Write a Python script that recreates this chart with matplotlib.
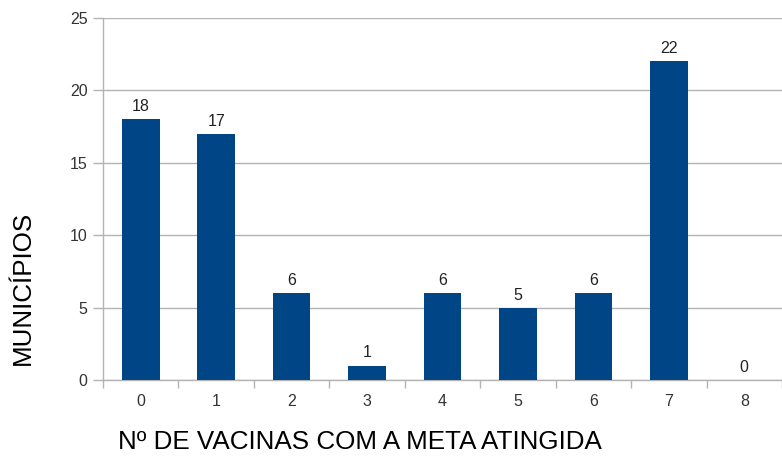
import numpy as np
import matplotlib.pyplot as plt

plt.rcParams['font.family'] = ['Liberation Sans', 'DejaVu Sans']

categories = ['0', '1', '2', '3', '4', '5', '6', '7', '8']
municipios = [18, 17, 6, 1, 6, 5, 6, 22, 0]

bar_colour = "#004586"
grid_colour = "#b3b3b3"

fig = plt.figure(figsize=(7.82, 4.57), dpi=100)
ax = fig.add_axes([103 / 782, 1 - 380 / 457, 679 / 782, 362 / 457])

x = np.arange(len(categories))
bars = ax.bar(x, municipios, width=0.5, color=bar_colour, zorder=3)

for rect, v in zip(bars, municipios):
    ax.text(rect.get_x() + rect.get_width() / 2, v + 0.35, str(v),
            ha="center", va="bottom", fontsize=11.5, color="#222222")

ax.set_xlim(-0.5, len(categories) - 0.5)
ax.set_ylim(0, 25)
ax.set_yticks(range(0, 26, 5))
ax.yaxis.grid(True, color=grid_colour, linewidth=1, zorder=0)

# category labels centred, ticks on the boundaries
ax.set_xticks(x)
ax.set_xticklabels(categories)
ax.set_xticks(np.arange(-0.5, len(categories), 1), minor=True)
ax.tick_params(axis="x", which="major", length=0, pad=10,
               labelsize=11.5, labelcolor="#333333")
ax.tick_params(axis="x", which="minor", length=6, color=grid_colour, width=1)
ax.tick_params(axis="y", length=7, color=grid_colour, width=1, pad=4,
               labelsize=11.5, labelcolor="#333333")

for side in ["top", "right"]:
    ax.spines[side].set_visible(False)
for side in ["left", "bottom"]:
    ax.spines[side].set_color(grid_colour)
    ax.spines[side].set_linewidth(1)

fig.text(360 / 782, 1 - 442 / 457, "Nº DE VACINAS COM A META ATINGIDA",
         ha="center", va="center", fontsize=18.7, color="black")
fig.text(23 / 782, 1 - 288 / 457, "MUNICÍPIOS", rotation=90,
         ha="center", va="center", fontsize=18.7, color="black")

fig.savefig("out.png", dpi=100)
